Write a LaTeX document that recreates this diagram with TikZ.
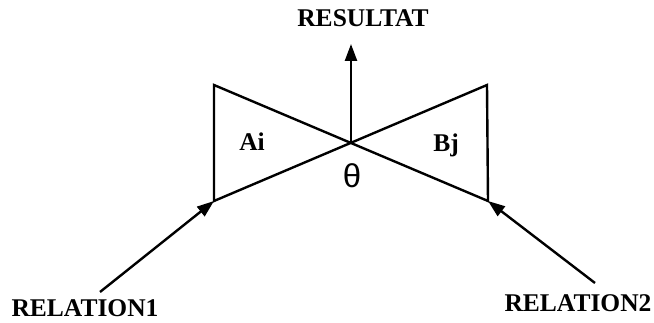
\documentclass[tikz,border=0pt]{standalone}
\usepackage{fontspec}
\setmainfont{Liberation Serif}
\newfontfamily\thetafont{Liberation Sans}
\usetikzlibrary{arrows.meta}
\tikzset{
  node-label/.style={font=\bfseries\fontsize{25.5}{30}\selectfont,inner sep=0pt,anchor=base},
  node-theta/.style={font=\thetafont\fontsize{33}{38}\selectfont,inner sep=0pt,anchor=base},
  edge-line/.style={line width=2.4pt,line join=miter},
  arrow/.style={-{Triangle[length=17pt,width=12pt]},line width=2.4pt},
}

\begin{document}
\begin{tikzpicture}[x=1pt,y=-1pt]
  \useasboundingbox (0,0) rectangle (654,323);
  % les deux relations et la jointure
  \coordinate (a-top) at (214,85);
  \coordinate (a-bot) at (214,201);
  \coordinate (b-top) at (487,85);
  \coordinate (b-bot) at (488,201);
  \coordinate (cross) at (351,143);
  \coordinate (res-tip) at (351,44);
  \coordinate (rel1-start) at (100,292);
  \coordinate (rel2-start) at (595,283);
  \draw[edge-line] (a-top) -- (a-bot) -- (b-top) -- (b-bot) -- cycle;
    \node[node-label] (ai) at (252,151) {Ai};
    \node[node-label] (bj) at (446,152) {Bj};
    \node[node-theta] (theta) at (352,188) {θ};
  \node[node-label] (resultat) at (363,27) {RESULTAT};
  \node[node-label] (rel1) at (85,317) {RELATION1};
  \node[node-label] (rel2) at (578,312) {RELATION2};
  \draw[arrow] (cross) -- (res-tip);
  \draw[arrow] (rel1-start) -- (a-bot);
  \draw[arrow] (rel2-start) -- (b-bot);
\end{tikzpicture}
\end{document}
